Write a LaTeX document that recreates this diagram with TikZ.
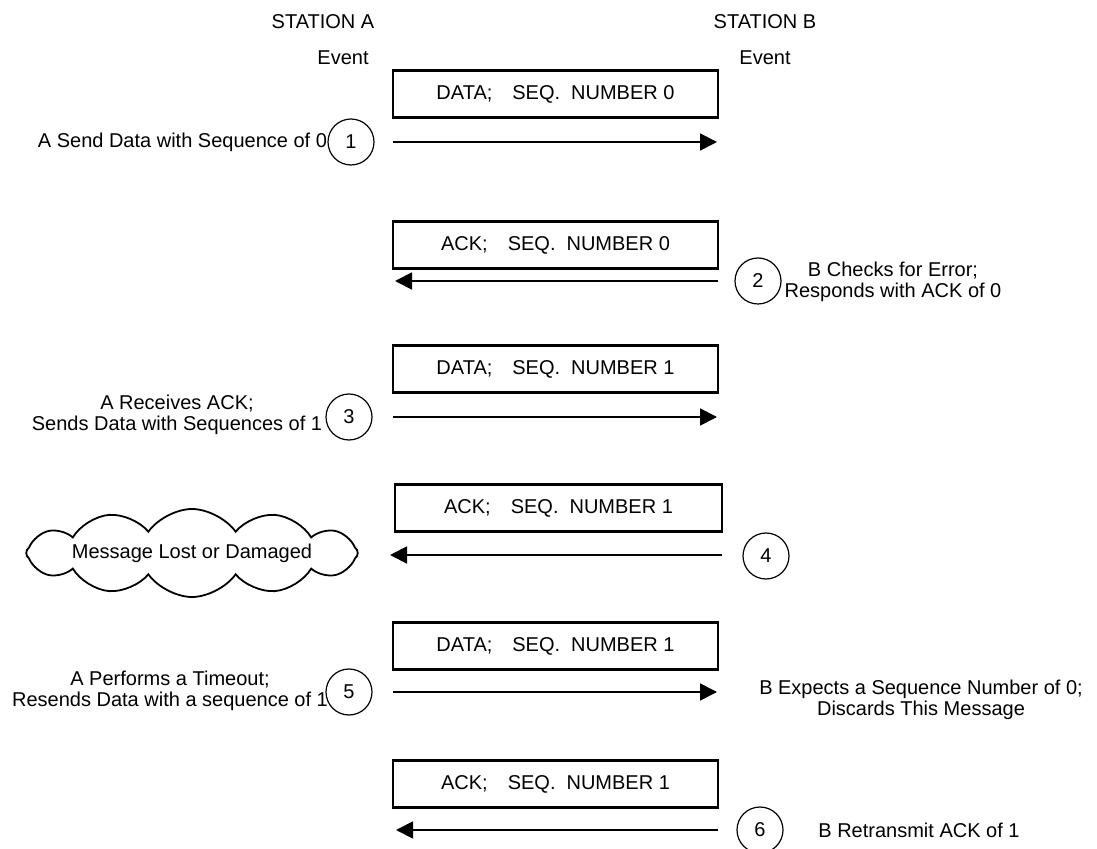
\documentclass[tikz,border=0pt]{standalone}
\usepackage{fontspec}
\setmainfont{Liberation Sans}
\usetikzlibrary{shapes.symbols,arrows.meta}
\begin{document}
\begin{tikzpicture}[x=0.5pt,y=-0.5pt,
  every node/.style={font=\fontsize{10}{10.5}\selectfont, inner sep=0pt},
  msgbox/.style={draw, line width=1.1pt, minimum width=162.5pt, minimum height=23.5pt},
  evcircle/.style={draw, circle, line width=0.6pt, minimum size=23pt},
  msgarrow/.style={line width=0.9pt, -{Triangle[length=8.5pt,width=8.5pt]}},
  lbl/.style={align=center}
]
\useasboundingbox (0,0) rectangle (1097,849);

\node (staA) at (323,22) {STATION A};
\node (staB) at (765,22) {STATION B};
\node (evA) at (343,58) {Event};
\node (evB) at (765,58) {Event};

\newcommand{\msgtxt}[2]{#1;\hspace{1em}SEQ.\hspace{0.55em}NUMBER #2}

\node[msgbox] (box1) at (555.5,94) {\msgtxt{DATA}{0}};
\node[msgbox] (box2) at (555.5,245) {\msgtxt{ACK}{0}};
\node[msgbox] (box3) at (555.5,369) {\msgtxt{DATA}{1}};
\node[msgbox, minimum width=163.5pt] (box4) at (558.5,508) {\msgtxt{ACK}{1}};
\node[msgbox] (box5) at (555.5,646) {\msgtxt{DATA}{1}};
\node[msgbox] (box6) at (555.5,784) {\msgtxt{ACK}{1}};

\node[evcircle] (c1) at (351,142) {1};
\node[evcircle] (c2) at (758,281) {2};
\node[evcircle] (c3) at (349,417) {3};
\node[evcircle] (c4) at (766,556) {4};
\node[evcircle] (c5) at (349,692) {5};
\node[evcircle] (c6) at (760,830) {6};

\coordinate (a1s) at (393,142); \coordinate (a1e) at (717,142);
\coordinate (a2s) at (718,281); \coordinate (a2e) at (395,281);
\coordinate (a3s) at (393,417); \coordinate (a3e) at (717,417);
\coordinate (a4s) at (722,555); \coordinate (a4e) at (390,555);
\coordinate (a5s) at (393,692); \coordinate (a5e) at (717,692);
\coordinate (a6s) at (718,830); \coordinate (a6e) at (396,830);

\draw[msgarrow] (a1s) -- (a1e);
\draw[msgarrow] (a2s) -- (a2e);
\draw[msgarrow] (a3s) -- (a3e);
\draw[msgarrow] (a4s) -- (a4e);
\draw[msgarrow] (a5s) -- (a5e);
\draw[msgarrow] (a6s) -- (a6e);

\node[anchor=east] (t1) at (c1.west) {A Send Data with Sequence of 0};
\node[lbl] (t2) at (893,282) {B Checks for Error;\\Responds with ACK of 0};
\node[lbl] (t3) at (177,415) {A Receives ACK;\\Sends Data with Sequences of 1};
\node[cloud, draw, line width=0.9pt, cloud puffs=12, cloud puff arc=110, cloud ignores aspect, minimum width=145pt, minimum height=44pt] (cl) at (192,553) {Message Lost or Damaged};
\node[lbl] (t5) at (170,691) {A Performs a Timeout;\\Resends Data with a sequence of 1};
\node[lbl] (t5b) at (921,700) {B Expects a Sequence Number of 0;\\Discards This Message};
\node[anchor=west] (t6) at (818,830) {B Retransmit ACK of 1};
\end{tikzpicture}
\end{document}
